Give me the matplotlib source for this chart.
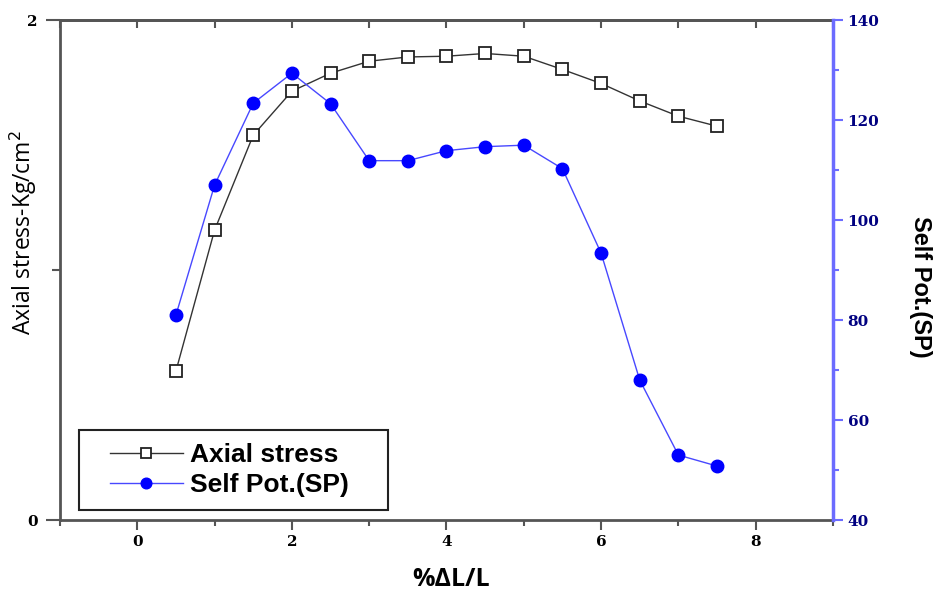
import matplotlib.pyplot as plt
from matplotlib.patches import Rectangle
from matplotlib.ticker import MultipleLocator, FixedLocator

# strain (%dL/L)
strain = [0.5, 1.0, 1.5, 2.0, 2.5, 3.0, 3.5, 4.0, 4.5, 5.0, 5.5, 6.0, 6.5, 7.0, 7.5]
# axial stress, Kg/cm2 (left axis)
axial_stress = [0.596, 1.16, 1.54, 1.716, 1.788, 1.836, 1.853, 1.856, 1.867,
                1.856, 1.803, 1.747, 1.677, 1.616, 1.576]
# self potential (right axis)
self_pot = [81.0, 107.0, 123.4, 129.4, 123.3, 111.9, 111.9, 113.9, 114.7,
            115.0, 110.3, 93.4, 68.0, 53.0, 50.8]

spine_col = '#555555'
sp_col = '#0000ff'
sp_line = '#4848ff'
sp_axis_col = '#6b6bff'

fig = plt.figure(figsize=(9.37, 5.95), dpi=100)
ax = fig.add_axes([0.064, 0.126, 0.825, 0.840])
ax2 = ax.twinx()

l1, = ax.plot(strain, axial_stress, color='#333333', lw=1.0, marker='s', ms=8.5,
              mfc='white', mec='#222222', mew=1.3, label='Axial stress')
l2, = ax2.plot(strain, self_pot, color=sp_line, lw=1.0, marker='o', ms=9,
               mfc=sp_col, mec=sp_col, label='Self Pot.(SP)')

ax.set_xlim(-1, 9)
ax.set_ylim(0, 2)
ax2.set_ylim(40, 140)

# left / bottom axes
ax.xaxis.set_major_locator(MultipleLocator(2))
ax.xaxis.set_minor_locator(MultipleLocator(1))
ax.yaxis.set_major_locator(FixedLocator([0, 2]))
ax.yaxis.set_minor_locator(FixedLocator([1]))
ax.tick_params(axis='x', which='both', direction='out', top=False, color=spine_col)
ax.tick_params(axis='x', which='major', length=7, width=1.5)
ax.tick_params(axis='x', which='minor', length=4, width=1.5)
ax.tick_params(axis='y', which='major', length=10, width=1.5, color=spine_col, pad=6)
ax.tick_params(axis='y', which='minor', length=6, width=1.5, color=spine_col)
for lab in ax.get_xticklabels() + ax.get_yticklabels():
    lab.set_fontweight('bold')
    lab.set_fontsize(11)
    lab.set_family('DejaVu Serif')

# top ticks pointing in
top = ax.secondary_xaxis('top')
top.xaxis.set_major_locator(MultipleLocator(1))
top.tick_params(direction='in', length=6, width=1.5, color=spine_col, labeltop=False)
top.spines['top'].set_color(spine_col)
top.spines['top'].set_linewidth(2)

for s in ['left', 'bottom', 'top']:
    ax.spines[s].set_color(spine_col)
    ax.spines[s].set_linewidth(2)
ax.spines['right'].set_visible(False)
ax2.spines['left'].set_visible(False)
ax2.spines['top'].set_visible(False)
ax2.spines['bottom'].set_visible(False)
ax2.spines['right'].set_color(sp_axis_col)
ax2.spines['right'].set_linewidth(2.5)

# right axis
ax2.yaxis.set_major_locator(MultipleLocator(20))
ax2.yaxis.set_minor_locator(MultipleLocator(10))
ax2.tick_params(axis='y', which='major', length=7, width=1.5, color=sp_axis_col,
                labelcolor='#000080')
ax2.tick_params(axis='y', which='minor', length=4, width=1.5, color=sp_axis_col)
for lab in ax2.get_yticklabels():
    lab.set_fontweight('bold')
    lab.set_fontsize(11)
    lab.set_family('DejaVu Serif')

ax.set_xlabel('%ΔL/L', fontsize=18, fontweight='bold', family='Open Sans', va='center')
ax.xaxis.set_label_coords(0.506, -0.118)
ax.set_ylabel('Axial stress-Kg/cm$^2$', fontsize=16.5, family='Open Sans', va='center')
ax.yaxis.set_label_coords(-0.047, 0.576)
ax2.set_ylabel('Self Pot.(SP)', fontsize=17, fontweight='bold', family='Liberation Sans',
               rotation=270, va='center')
ax2.yaxis.set_label_coords(1.113, 0.466)

# legend: content without frame, box drawn separately so it can be wider
leg = ax.legend(handles=[l1, l2], loc='center left', bbox_to_anchor=(0.0647, 0.1),
                borderaxespad=0, borderpad=0, frameon=False,
                prop={'family': 'Liberation Sans', 'weight': 'bold', 'size': 19},
                handlelength=2.75, labelspacing=0.22, handletextpad=0.3,
                markerscale=0.85)
ax.add_patch(Rectangle((0.0246, 0.02), 0.4, 0.16, transform=ax.transAxes,
                       fill=False, edgecolor='#222222', lw=1.5, zorder=5))

fig.savefig('out.png', dpi=100)
